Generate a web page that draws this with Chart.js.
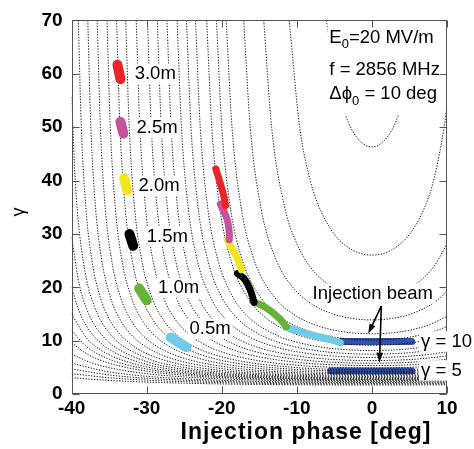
<!DOCTYPE html>
<html>
<head>
<meta charset="utf-8">
<script src="https://cdn.jsdelivr.net/npm/chart.js@4.4.1/dist/chart.umd.min.js"></script>
<style>
  html, body { margin: 0; padding: 0; background: #fff; }
  canvas { display: block; }
</style>
</head>
<body>
<canvas id="chart" width="474" height="449"></canvas>
<script>
// axis ticks
const xTickValues = [-40, -30, -20, -10, 0, 10];
const yTickValues = [0, 10, 20, 30, 40, 50, 60, 70];

// contour lines, [phase deg, gamma]
const contour01 = [[-6.06,70],[-4.98,60],[-3.45,52],[-1.96,48],[0,46.3],[1.96,48],[3.45,52],[4.98,60],[6.06,70]];
const contour02 = [[-11.02,70],[-9.62,50],[-8.21,40],[-7.02,35],[-5.04,30],[-2.6,27],[0,26.05],[2.6,27],[5.04,30],[7.02,35],[8.21,40],[9.62,50],[10,54]];
const contour03 = [[-14.41,70],[-13.36,50],[-11.62,35],[-9.94,28],[-8.3,24],[-6.24,21],[-3.7,19],[0,18.06],[3.7,19],[6.24,21],[8.3,24],[10,28.15]];
const contour04 = [[-17.08,70],[-16.21,50],[-14.8,35],[-12.7,25],[-10.52,20],[-8.12,17],[-5.14,15],[-2.73,14.2],[0,13.91],[2.73,14.2],[5.14,15],[8.12,17],[10,19.2]];
const contour05 = [[-19.41,70],[-18.64,50],[-17.42,35],[-15.66,25],[-12.89,18],[-10.49,15],[-7.62,13],[-5.07,12],[-2.72,11.5],[0,11.31],[2.72,11.5],[5.07,12],[7.62,13],[10,14.57]];
const contour06 = [[-20.71,70],[-19.99,50],[-18.86,35],[-17.24,25],[-14.76,18],[-11.72,14],[-8.77,12],[-6.22,11],[-3.49,10.4],[0,10.15],[3.49,10.4],[6.22,11],[8.77,12],[10,12.69]];
const contour07 = [[-22.01,70],[-21.33,50],[-20.27,35],[-18.77,25],[-16.52,18],[-13.86,14],[-11.47,12],[-9.64,11],[-6.85,10],[-4.5,9.5],[0,9.15],[4.5,9.5],[6.85,10],[10,11.17]];
const contour08 = [[-23.5,70],[-22.87,50],[-21.88,35],[-20.49,25],[-18.44,18],[-16.1,14],[-12.64,11],[-10.65,10],[-7.55,9],[-4.88,8.5],[0,8.17],[4.88,8.5],[7.55,9],[10,9.74]];
const contour09 = [[-24.7,70],[-24.1,50],[-23.16,35],[-21.85,25],[-19.93,18],[-17.78,14],[-14.71,11],[-10.65,9],[-6.53,8],[-4.24,7.7],[0,7.5],[4.24,7.7],[6.53,8],[10,8.79]];
const contour10 = [[-25.95,70],[-25.37,50],[-24.48,35],[-23.25,25],[-21.45,18],[-19.45,14],[-16.69,11],[-13.23,9],[-10.21,8],[-7.84,7.5],[-4.83,7.1],[0,6.88],[4.83,7.1],[7.84,7.5],[10,7.95]];
const contour11 = [[-27.3,70],[-26.75,50],[-25.9,35],[-24.73,25],[-23.04,18],[-21.19,14],[-18.68,11],[-15.66,9],[-13.19,8],[-9.08,7],[-5.13,6.5],[0,6.29],[5.13,6.5],[9.08,7],[10,7.17]];
const contour12 = [[-28.59,70],[-28.06,50],[-27.25,35],[-26.14,25],[-24.54,18],[-22.81,14],[-20.48,11],[-17.76,9],[-15.62,8],[-12.34,7],[-8.41,6.3],[-5.49,6],[0,5.8],[5.49,6],[8.41,6.3],[10,6.54]];
const contour13 = [[-29.9,70],[-29.39,50],[-28.62,35],[-27.56,25],[-26.04,18],[-24.41,14],[-22.24,11],[-19.75,9],[-17.84,8],[-15.04,7],[-10.19,6],[-6.49,5.6],[0,5.36],[6.49,5.6],[10,5.98]];
const contour14 = [[-31.4,70],[-30.91,50],[-30.17,35],[-29.16,25],[-27.73,18],[-26.19,14],[-24.17,11],[-21.89,9],[-20.18,8],[-17.74,7],[-13.84,6],[-8.81,5.3],[-4.34,5],[0,4.91],[4.34,5],[8.81,5.3],[10,5.43]];
const contour15 = [[-32.8,70],[-32.33,50],[-31.62,35],[-30.65,25],[-29.28,18],[-27.83,14],[-25.93,11],[-23.81,9],[-22.24,8],[-20.04,7],[-16.67,6],[-10.22,5],[-6.17,4.7],[0,4.54],[6.17,4.7],[10,4.98]];
const contour16 = [[-34.01,70],[-33.56,50],[-32.87,35],[-31.93,25],[-30.62,18],[-29.22,14],[-27.41,11],[-25.41,9],[-23.94,8],[-21.9,7],[-18.86,6],[-13.47,5],[-8.07,4.5],[0,4.26],[8.07,4.5],[10,4.64]];
const contour17 = [[-35.29,70],[-34.85,50],[-34.19,35],[-33.29,25],[-32.02,18],[-30.68,14],[-28.95,11],[-27.05,9],[-25.67,8],[-23.77,7],[-20.99,6],[-16.3,5],[-9.72,4.3],[-5,4.07],[0,3.99],[5,4.07],[10,4.32]];
const contour18 = [[-36.6,70],[-36.17,50],[-35.53,35],[-34.66,25],[-33.45,18],[-32.16,14],[-30.51,11],[-28.7,9],[-27.39,8],[-25.62,7],[-23.05,6],[-18.85,5],[-13.55,4.3],[-7.58,3.9],[0,3.74],[7.58,3.9],[10,4.03]];
const contour19 = [[-37.85,70],[-37.44,50],[-36.82,35],[-35.98,25],[-34.8,18],[-33.56,14],[-31.98,11],[-30.25,9],[-29.01,8],[-27.33,7],[-24.92,6],[-21.08,5],[-16.49,4.3],[-10.45,3.8],[-5,3.58],[0,3.53],[5,3.58],[10,3.78]];
const contour20 = [[-39.11,70],[-38.71,50],[-38.11,35],[-37.29,25],[-36.15,18],[-34.95,14],[-33.42,11],[-31.76,9],[-30.57,8],[-28.98,7],[-26.71,6],[-23.15,5],[-19.04,4.3],[-14.12,3.8],[-8.86,3.5],[0,3.33],[8.86,3.5],[10,3.55]];
const contour21 = [[-40,55.6],[-39.5,39.6],[-39,30.8],[-38,21.42],[-37,16.51],[-35,11.46],[-30,6.76],[-25,5.01],[-20,4.14],[-15,3.65],[-10,3.36],[-5,3.21],[0,3.17],[5,3.21],[10,3.36]];
const contour22 = [[-40,29.43],[-39,20.62],[-38,15.96],[-37,13.07],[-35,9.69],[-30,6.11],[-25,4.65],[-20,3.89],[-15,3.46],[-10,3.2],[-5,3.07],[0,3.03],[5,3.07],[10,3.2]];
const contour23 = [[-40,20.02],[-39,15.52],[-38,12.72],[-37,10.82],[-35,8.4],[-30,5.58],[-25,4.34],[-20,3.68],[-15,3.29],[-10,3.06],[-5,2.94],[0,2.9],[5,2.94],[10,3.06]];
const contour24 = [[-40,14.99],[-38,10.49],[-37,9.17],[-35,7.37],[-30,5.11],[-25,4.06],[-20,3.48],[-15,3.13],[-10,2.92],[-5,2.81],[0,2.78],[5,2.81],[10,2.92]];
const contour25 = [[-40,11.93],[-38,8.9],[-35,6.56],[-30,4.71],[-25,3.81],[-20,3.29],[-15,2.98],[-10,2.79],[-5,2.69],[0,2.66],[5,2.69],[10,2.79]];
const contour26 = [[-40,9.64],[-38,7.57],[-35,5.81],[-30,4.32],[-25,3.55],[-20,3.1],[-15,2.83],[-10,2.66],[-5,2.57],[0,2.54],[5,2.57],[10,2.66]];
const contour27 = [[-40,7.5],[-37.5,5.94],[-35,4.97],[-30,3.84],[-25,3.23],[-20,2.86],[-15,2.63],[-10,2.49],[-5,2.41],[0,2.38],[5,2.41],[10,2.49]];
const contour28 = [[-40,5.79],[-35,4.17],[-30,3.36],[-25,2.89],[-20,2.59],[-15,2.41],[-10,2.29],[-5,2.22],[0,2.2],[5,2.22],[10,2.29]];
const contour29 = [[-40,4.73],[-35,3.6],[-30,2.99],[-25,2.62],[-20,2.38],[-15,2.22],[-10,2.12],[-5,2.07],[0,2.05],[5,2.07],[10,2.12]];
const contour30 = [[-40,3.85],[-35,3.08],[-30,2.63],[-25,2.35],[-20,2.16],[-15,2.03],[-10,1.96],[-5,1.91],[0,1.9],[5,1.91],[10,1.96]];
const contour31 = [[-40,3.08],[-35,2.58],[-30,2.27],[-25,2.06],[-20,1.92],[-15,1.83],[-10,1.77],[-5,1.73],[0,1.72],[5,1.73],[10,1.77]];

// bunch snapshots at 0.5 m ... 3.0 m (gamma = 5 injection)
const snap30 = [[-33.9,61.7],[-33.5,59.0]];
const snap25 = [[-33.5,51.0],[-33.1,48.8]];
const snap20 = [[-33.0,40.4],[-32.6,38.2]];
const snap15 = [[-32.3,30.0],[-31.8,27.8]];
const snap10 = [[-31.0,19.8],[-30.0,17.6]];
const snap05 = [[-26.8,10.6],[-24.7,8.8]];

// trajectory of the gamma = 10 injection, coloured by distance
const pathRed = [[-20.8,42.2],[-20.2,39.5],[-19.7,36.9],[-19.5,35.3]];
const pathMagenta = [[-20.2,35.6],[-19.3,32.8],[-19.0,30.2],[-19.0,28.9]];
const pathYellow = [[-19.3,29.0],[-18.6,27.2],[-17.9,25.3],[-17.4,23.3]];
const pathBlack = [[-17.9,22.6],[-17.0,21.6],[-16.2,19.5],[-15.7,17.2]];
const pathGreen = [[-15.9,17.4],[-14.1,16.2],[-12.4,14.3],[-11.4,12.6]];
const pathCyan = [[-11.2,12.4],[-8.0,11.1],[-5.5,10.2],[-4.2,9.6]];

// injected beams
const beamGamma10 = [[-4.1,9.85],[5.3,9.85]];
const beamGamma5 = [[-5.5,4.35],[5.3,4.35]];

const FONT = '"Liberation Sans", Arial, Helvetica, sans-serif';

const contours = [contour01, contour02, contour03, contour04, contour05, contour06, contour07, contour08,
  contour09, contour10, contour11, contour12, contour13, contour14, contour15, contour16,
  contour17, contour18, contour19, contour20, contour21, contour22, contour23, contour24,
  contour25, contour26, contour27, contour28, contour29, contour30, contour31];

const toXY = pts => pts.map(p => ({ x: p[0], y: p[1] }));

const datasets = contours.map(c => ({
  data: toXY(c),
  showLine: true,
  pointRadius: 0,
  borderColor: 'rgba(0,0,0,0.9)',
  borderWidth: 1,
  borderDash: [1.3, 1.5],
  cubicInterpolationMode: 'monotone',
  order: 3
}));

function stroke(pts, color, width, order) {
  return {
    data: toXY(pts),
    showLine: true,
    pointRadius: 0,
    borderColor: color,
    borderWidth: width,
    borderCapStyle: 'round',
    borderJoinStyle: 'round',
    tension: 0.4,
    order: order
  };
}

datasets.push(
  stroke(beamGamma10, '#3150a6', 7, 4),
  stroke(beamGamma5, '#3150a6', 7, 4),
  stroke(snap30, '#e8262a', 10, 1),
  stroke(snap25, '#c6529f', 10, 1),
  stroke(snap20, '#f2e61c', 10, 1),
  stroke(snap15, '#000000', 10, 1),
  stroke(snap10, '#66b33b', 10, 1),
  stroke(snap05, '#6fcbe8', 10, 1),
  stroke(pathRed, '#e8262a', 7, 1),
  stroke(pathMagenta, '#c6529f', 7, 1),
  stroke(pathYellow, '#f2e61c', 7, 1),
  stroke(pathBlack, '#000000', 7, 1),
  stroke(pathGreen, '#66b33b', 7, 1),
  stroke(pathCyan, '#6fcbe8', 7, 1)
);

// text notes, anchored in data units (left edge, vertical centre)
const notes = [
  { runs: [{ t: '3.0m' }], at: [-31.6, 60.0] },
  { runs: [{ t: '2.5m' }], at: [-31.35, 49.8] },
  { runs: [{ t: '2.0m' }], at: [-31.1, 39.0] },
  { runs: [{ t: '1.5m' }], at: [-30.0, 29.5] },
  { runs: [{ t: '1.0m' }], at: [-28.5, 19.9] },
  { runs: [{ t: '0.5m' }], at: [-24.3, 12.25] },
  { runs: [{ t: 'Injection beam' }], at: [-7.9, 18.85] },
  { runs: [{ t: 'γ = 10' }], at: [6.55, 9.85] },
  { runs: [{ t: 'γ = 5' }], at: [6.55, 4.45] }
];
const paramNotes = [
  { runs: [{ t: 'E' }, { t: '0', sub: true }, { t: '=20 MV/m' }], at: [-5.67, 66.75] },
  { runs: [{ t: 'f = 2856 MHz' }], at: [-5.67, 60.77] },
  { runs: [{ t: 'Δϕ' }, { t: '0', sub: true }, { t: ' = 10 deg' }], at: [-5.67, 56.16] }
];
const arrowStart = [1.25, 16.5];
const arrowEnds = [[-0.5, 11.3], [1.0, 5.9]];

function runsWidth(ctx, runs, size) {
  let w = 0;
  runs.forEach(r => {
    ctx.font = (r.sub ? size * 0.7 : size) + 'px ' + FONT;
    w += ctx.measureText(r.t).width;
  });
  return w;
}

function drawRuns(ctx, runs, x, y, size, boxed) {
  const w = runsWidth(ctx, runs, size);
  if (boxed) {
    ctx.fillStyle = '#fff';
    ctx.fillRect(x - 2, y - size * 0.55, w + 4, size * 1.1);
  }
  ctx.fillStyle = '#000';
  ctx.textBaseline = 'middle';
  ctx.textAlign = 'left';
  let cx = x;
  runs.forEach(r => {
    const s = r.sub ? size * 0.7 : size;
    ctx.font = s + 'px ' + FONT;
    ctx.fillText(r.t, cx, y + (r.sub ? size * 0.38 : 0));
    cx += ctx.measureText(r.t).width;
  });
}

function arrow(ctx, x1, y1, x2, y2) {
  const a = Math.atan2(y2 - y1, x2 - x1);
  const L = 10, W = 3.2;
  ctx.beginPath();
  ctx.moveTo(x1, y1);
  ctx.lineTo(x2 - L * 0.8 * Math.cos(a), y2 - L * 0.8 * Math.sin(a));
  ctx.stroke();
  ctx.beginPath();
  ctx.moveTo(x2, y2);
  ctx.lineTo(x2 - L * Math.cos(a) + W * Math.sin(a), y2 - L * Math.sin(a) - W * Math.cos(a));
  ctx.lineTo(x2 - L * Math.cos(a) - W * Math.sin(a), y2 - L * Math.sin(a) + W * Math.cos(a));
  ctx.closePath();
  ctx.fill();
}

const overlay = {
  id: 'overlay',
  afterDatasetsDraw(chart) {
    const { ctx, chartArea: a, scales } = chart;
    const px = v => scales.x.getPixelForValue(v);
    const py = v => scales.y.getPixelForValue(v);
    ctx.save();

    // white box behind the parameter text
    ctx.fillStyle = '#fff';
    ctx.fillRect(px(-5.9), a.top + 1, px(9.5) - px(-5.9), py(52.3) - a.top - 1);
    paramNotes.forEach(n => drawRuns(ctx, n.runs, px(n.at[0]), py(n.at[1]), 18.5, false));

    // frame with inward ticks on all sides
    const L = Math.round(a.left) + 0.5, R = Math.round(a.right) - 0.5;
    const T = Math.round(a.top) + 0.5, B = Math.round(a.bottom) - 0.5;
    ctx.strokeStyle = '#555';
    ctx.lineWidth = 1;
    ctx.strokeRect(L, T, R - L, B - T);
    ctx.beginPath();
    xTickValues.forEach(v => {
      const X = Math.round(px(v)) + 0.5;
      ctx.moveTo(X, B); ctx.lineTo(X, B - 7);
      ctx.moveTo(X, T); ctx.lineTo(X, T + 7);
    });
    yTickValues.forEach(v => {
      const Y = Math.round(py(v)) + 0.5;
      ctx.moveTo(L, Y); ctx.lineTo(L + 7, Y);
      ctx.moveTo(R, Y); ctx.lineTo(R - 7, Y);
    });
    ctx.stroke();

    // arrows from "Injection beam" to the two beams
    ctx.strokeStyle = '#000';
    ctx.fillStyle = '#000';
    ctx.lineWidth = 1.6;
    arrowEnds.forEach(e => arrow(ctx, px(arrowStart[0]), py(arrowStart[1]), px(e[0]), py(e[1])));

    notes.forEach(n => drawRuns(ctx, n.runs, px(n.at[0]), py(n.at[1]), 18.5, true));
    ctx.restore();
  },
  afterDraw(chart) {
    const { ctx } = chart;
    ctx.save();
    ctx.fillStyle = '#000';
    ctx.textAlign = 'center';
    ctx.textBaseline = 'alphabetic';
    ctx.font = 'bold 23px ' + FONT;
    ctx.letterSpacing = '1px';
    ctx.fillText('Injection phase [deg]', 306, 439);
    ctx.letterSpacing = '0px';
    ctx.translate(19, 212);
    ctx.rotate(-Math.PI / 2);
    ctx.textBaseline = 'middle';
    ctx.font = '18px ' + FONT;
    ctx.fillText('γ', 0, 0);
    ctx.restore();
  }
};

new Chart(document.getElementById('chart'), {
  type: 'scatter',
  data: { datasets: datasets },
  options: {
    responsive: false,
    animation: false,
    // the axes reserve label size plus twice the tick padding
    layout: { padding: { left: 32.5, right: 27, top: 17, bottom: 25 } },
    plugins: { legend: { display: false }, tooltip: { enabled: false } },
    scales: {
      x: {
        type: 'linear', min: -40, max: 10,
        afterBuildTicks: s => { s.ticks = xTickValues.map(v => ({ value: v })); },
        grid: { display: false, drawTicks: false, tickLength: 0 },
        border: { display: false },
        ticks: { color: '#000', padding: 3.5, font: { family: FONT, size: 19, weight: 'bold' } }
      },
      y: {
        type: 'linear', min: 0, max: 70,
        afterBuildTicks: s => { s.ticks = yTickValues.map(v => ({ value: v })); },
        grid: { display: false, drawTicks: false, tickLength: 0 },
        border: { display: false },
        ticks: { color: '#000', padding: 9, font: { family: FONT, size: 19, weight: 'bold' } }
      }
    }
  },
  plugins: [overlay]
});
</script>
</body>
</html>
